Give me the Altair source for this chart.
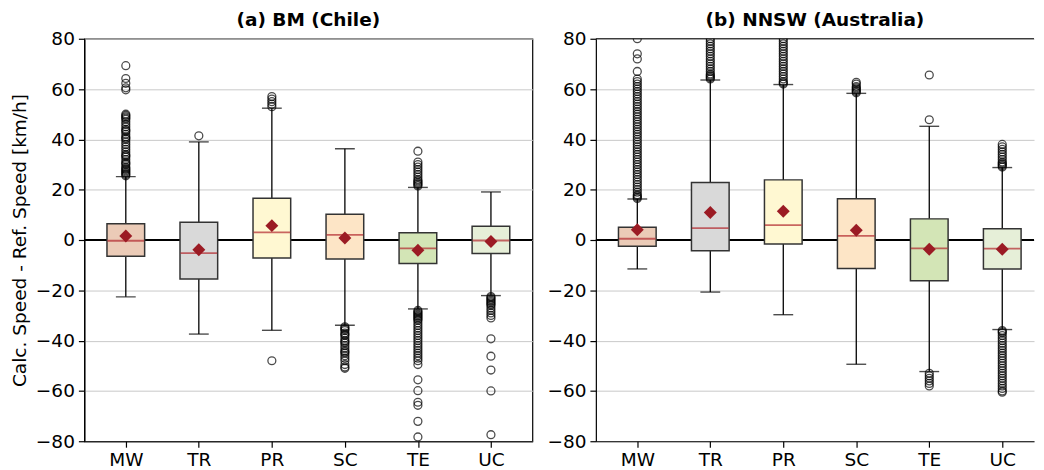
import altair as alt
import pandas as pd

cats = ["MW", "TR", "PR", "SC", "TE", "UC"]
fills = ["#ebcbb7", "#d9d9d9", "#fff8d2", "#fde5c6", "#d3e5b6", "#e6efd8"]

# ---- (a) BM (Chile)
bm_q1 = [-6.5, -15.5, -7.2, -7.6, -9.3, -5.4]
bm_med = [-0.3, -5.2, 3.0, 2.0, -3.3, -0.2]
bm_q3 = [6.5, 7.1, 16.6, 10.2, 2.9, 5.5]
bm_lo = [-22.6, -37.4, -35.9, -33.9, -27.4, -22.1]
bm_hi = [25.2, 39.0, 52.4, 36.3, 20.9, 19.1]
bm_mean = [1.6, -3.9, 5.7, 0.8, -4.1, -0.6]
bm_out = {
    "MW": [25.5, 26, 26.5, 27, 27.5, 28, 28.5, 29, 30, 30.5, 31, 32, 33, 33.5, 34, 35, 36, 37,
           38, 39, 40, 40.5, 41, 42, 43, 43.5, 44, 45, 46, 47, 48, 48.5, 49, 49.5, 50,
           59.7, 60.5, 62.3, 64.2, 69.3],
    "TR": [41.4],
    "PR": [53.0, 54.0, 55.0, 56.0, 57.0, -48.0],
    "SC": [-34.5, -35, -35.5, -36, -37, -37.5, -38, -39, -40, -40.5, -41, -42, -43, -44,
           -44.5, -45, -46, -47, -48, -49.5, -50.5, -51],
    "TE": [21.5, 22, 22.5, 23, 23.5, 24, 25, 26, 27, 28, 29, 30, 31, 35.3,
           -28, -28.5, -29, -29.5, -30, -30.5, -31, -31.5, -32, -33, -34, -35, -36, -37,
           -38, -39, -40, -41, -42, -43, -44, -45, -46, -47, -48, -49.5,
           -55.6, -59.9, -64.5, -65.7, -72.1, -78.3],
    "UC": [-22.5, -23, -23.5, -24, -24.5, -25, -25.5, -26, -27, -28, -29, -30, -31,
           -39.3, -46.2, -51.7, -60.0, -77.4],
}

# ---- (b) NNSW (Australia)
nn_q1 = [-2.5, -4.3, -1.6, -11.3, -16.2, -11.5]
nn_med = [0.5, 4.7, 5.9, 1.6, -3.3, -3.4]
nn_q3 = [5.1, 22.9, 23.9, 16.4, 8.4, 4.5]
nn_lo = [-11.5, -20.7, -29.7, -49.4, -52.3, -35.6]
nn_hi = [16.3, 63.6, 61.8, 58.3, 45.2, 28.8]
nn_mean = [4.1, 10.9, 11.4, 3.9, -3.7, -3.7]
nn_out = {
    "MW": [16.5, 17, 17.5, 18, 19, 20, 21, 22, 23, 24, 25, 26, 27, 28, 29, 30, 31, 32, 33,
           34, 35, 36, 37, 38, 39, 40, 41, 42, 43, 44, 45, 46, 47, 48, 49, 50, 51, 52, 53,
           54, 55, 56, 57, 58, 59, 60, 61, 62, 63, 64, 67, 72, 74, 80, 83],
    "TR": [64, 64.5, 65, 65.5, 66, 67, 68, 69, 70, 71, 72, 73, 74, 75, 76, 77, 78, 79, 80, 82],
    "PR": [62, 62.5, 63, 64, 65, 66, 67, 68, 69, 70, 71, 72, 73, 74, 75, 76, 77, 78, 79, 80, 82],
    "SC": [58.5, 59, 59.5, 60, 60.5, 61, 62, 62.7],
    "TE": [47.8, 65.6, -53, -54, -55, -56, -57, -58],
    "UC": [29, 29.5, 30, 30.5, 31, 32, 33, 34, 35, 36, 37, 38,
           -36, -36.5, -37, -38, -39, -40, -41, -42, -43, -44, -45, -46, -47, -48, -49, -50,
           -51, -52, -53, -54, -55, -56, -57, -58, -59, -60, -60.5],
}

Y_TICKS = [-80, -60, -40, -20, 0, 20, 40, 60, 80]
FONT = "DejaVu Sans"
FS = 18.67


def panel(title, q1, med, q3, lo, hi, mean, outl, width, xmax, ytitle, framed):
    box = pd.DataFrame({"cat": cats, "pos": list(range(1, 7)), "q1": q1, "med": med,
                        "q3": q3, "lo": lo, "hi": hi, "mean": mean})
    rows = [(c, cats.index(c) + 1, v) for c in cats for v in outl[c]]
    odf = pd.DataFrame(rows, columns=["cat", "pos", "v"])

    xs = alt.Scale(domain=[0.5, xmax], nice=False, zero=False)
    xax = alt.Axis(values=[1, 2, 3, 4, 5, 6], title=None, grid=False, labelPadding=3,
                   labelExpr="['MW','TR','PR','SC','TE','UC'][datum.value - 1]")
    ys = alt.Scale(domain=[-80, 80], nice=False, zero=False)
    yax = alt.Axis(values=Y_TICKS, title=ytitle if ytitle else None, grid=True,
                   labelPadding=4)

    def X():
        return alt.X("pos:Q", scale=xs, axis=xax)

    def Y(f):
        return alt.Y(f, scale=ys, axis=yax)

    cscale = alt.Scale(domain=cats, range=fills)

    zero = alt.Chart(pd.DataFrame({"z": [0]})).mark_rule(
        color="black", strokeWidth=2).encode(y=Y("z:Q"))
    b = alt.Chart(box)
    wh_up = b.mark_rule(color="black", strokeWidth=1.3).encode(x=X(), y=Y("q3:Q"), y2="hi:Q")
    wh_dn = b.mark_rule(color="black", strokeWidth=1.3).encode(x=X(), y=Y("q1:Q"), y2="lo:Q")
    cap_up = b.mark_tick(orient="horizontal", size=20, thickness=1.4, color="black").encode(
        x=X(), y=Y("hi:Q"))
    cap_dn = b.mark_tick(orient="horizontal", size=20, thickness=1.4, color="black").encode(
        x=X(), y=Y("lo:Q"))
    bars = b.mark_bar(size=38, stroke="#333333", strokeWidth=1.5).encode(
        x=X(), y=Y("q1:Q"), y2="q3:Q",
        fill=alt.Fill("cat:N", scale=cscale, legend=None))
    meds = b.mark_tick(orient="horizontal", size=37, thickness=1.8, color="#b2282e").encode(
        x=X(), y=Y("med:Q"))
    outs = alt.Chart(odf).mark_point(shape="circle", filled=False, stroke="black",
                                     strokeWidth=1.3, size=64, clip=True).encode(
        x=X(), y=Y("v:Q"))
    means = b.mark_point(shape="diamond", filled=True, color="#9b1b24", size=170,
                         opacity=1).encode(x=X(), y=Y("mean:Q"))
    layers = [zero, wh_up, wh_dn, cap_up, cap_dn, bars, meds, outs, means]
    props = dict(width=width, height=406,
                 title=alt.TitleParams(title, fontSize=FS, fontWeight="bold", font=FONT,
                                       anchor="middle", offset=0, color="black",
                                       frame="group"))
    if not framed:
        top = alt.Chart(pd.DataFrame({"t": [80]})).mark_rule(
            color="black", strokeWidth=1.2).encode(y=Y("t:Q"))
        layers.append(top)
        props["view"] = alt.ViewBackground(stroke="transparent")
    return alt.layer(*layers).properties(**props)


left = panel("(a) BM (Chile)", bm_q1, bm_med, bm_q3, bm_lo, bm_hi, bm_mean, bm_out,
             452, 6.5, "Calc. Speed - Ref. Speed [km/h]", True)
right = panel("(b) NNSW (Australia)", nn_q1, nn_med, nn_q3, nn_lo, nn_hi, nn_mean, nn_out,
              442, 0.5 + 442 / (452 / 6), None, False)

chart = alt.hconcat(left, right, spacing=64, bounds="flush").properties(
    padding={"left": 2, "top": 0, "right": 0, "bottom": 0}
).configure_axis(
    labelFont=FONT, labelFontSize=FS, labelColor="black", tickColor="black",
    domainColor="black", tickSize=6, titleFont=FONT, titleFontSize=FS,
    titleFontWeight="normal", titleColor="black", titlePadding=6, gridColor="#c8c8c8",
    gridWidth=1, domainWidth=1.2, tickWidth=1.2
).configure_view(stroke="black", strokeWidth=1.2)

chart.save("out.html", embed_options={"renderer": "svg", "actions": False})
